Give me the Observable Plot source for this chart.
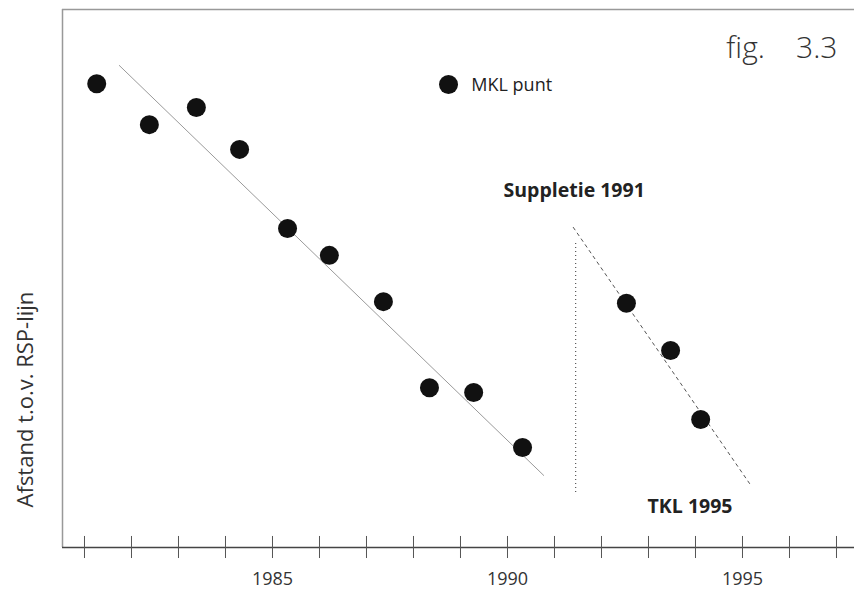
<!DOCTYPE html>
<html>
<head>
<meta charset="utf-8">
<script src="https://cdn.jsdelivr.net/npm/d3@7"></script>
<script src="https://cdn.jsdelivr.net/npm/@observablehq/plot@0.6"></script>
<style>
  html, body { margin: 0; padding: 0; background: #fff; }
  #chart svg { display: block; }
</style>
</head>
<body>
<div id="chart"></div>
<script>
// MKL measurements (year, distance relative to RSP line, arbitrary units)
const years = [1981.26, 1982.38, 1983.38, 1984.30, 1985.32, 1986.21, 1987.36, 1988.34, 1989.28, 1990.32, 1992.53, 1993.47, 1994.11];
const mkl   = [86.2, 78.6, 81.8, 74.0, 59.3, 54.3, 45.7, 29.7, 28.8, 18.6, 45.4, 36.6, 23.8];

// trend line before the nourishment (start/end)
const trend1X = [1981.74, 1990.77];
const trend1Y = [89.6, 13.4];
// trend line after the nourishment, extrapolated to TKL 1995
const trend2X = [1991.40, 1995.15];
const trend2Y = [59.5, 11.9];
// nourishment (suppletie) 1991 jump
const supplX = 1991.45;
const supplY = [56.5, 9.7];

const tickYears = d3.range(1981, 1998);
const labelYears = [1985, 1990, 1995];

const points = years.map((x, i) => ({x, y: mkl[i]}));
const t1 = trend1X.map((x, i) => ({x, y: trend1Y[i]}));
const t2 = trend2X.map((x, i) => ({x, y: trend2Y[i]}));

const xDomain = [1980.532, 1997.383];
const yDomain = [0, 100];
const font = "'Open Sans', 'DejaVu Sans', sans-serif";

const chart = Plot.plot({
  width: 854,
  height: 590,
  marginLeft: 62,
  marginRight: 0,
  marginTop: 9,
  marginBottom: 43,
  style: {fontFamily: font, background: "#fff"},
  x: {domain: xDomain, axis: null},
  y: {domain: yDomain, axis: null},
  marks: [
    // frame: left and top borders
    Plot.ruleX([xDomain[0]], {stroke: "#999", strokeWidth: 1.5}),
    Plot.ruleY([yDomain[1]], {stroke: "#999", strokeWidth: 1.5}),
    // x axis line
    Plot.ruleY([0], {stroke: "#444", strokeWidth: 1.3}),
    // crossing ticks, one per year
    Plot.ruleX(tickYears, {y1: -2.05, y2: 2.05, stroke: "#555", strokeWidth: 1}),
    Plot.axisX(labelYears, {
      tickSize: 0, tickPadding: 25, tickFormat: d => String(d),
      fontSize: 18, fill: "#333", label: null
    }),
    // trend lines
    Plot.line(t1, {x: "x", y: "y", stroke: "#9a9a9a", strokeWidth: 1}),
    Plot.line(t2, {x: "x", y: "y", stroke: "#555", strokeWidth: 1, strokeDasharray: "3,4"}),
    Plot.ruleX([supplX], {y1: supplY[0], y2: supplY[1], stroke: "#555", strokeWidth: 1.2, strokeDasharray: "1,3"}),
    // measurement points
    Plot.dot(points, {x: "x", y: "y", r: 9.5, fill: "#111", stroke: "none"}),
    // legend
    Plot.dot([{x: 1988.745, y: 86.06}], {x: "x", y: "y", r: 9.5, fill: "#111"}),
    Plot.text(["MKL punt"], {x: 1989.23, y: 84.76, textAnchor: "start", lineAnchor: "bottom", fontSize: 18, fill: "#222"}),
    // annotations
    Plot.text(["fig.\u00a0\u00a0\u00a0\u00a03.3"], {x: 1997.02, y: 90.9, textAnchor: "end", lineAnchor: "bottom", fontSize: 30, fontWeight: 300, fill: "#333"}),
    Plot.text(["Suppletie 1991"], {x: 1989.915, y: 65.06, textAnchor: "start", lineAnchor: "bottom", fontSize: 19.5, fontWeight: "bold", fill: "#222"}),
    Plot.text(["TKL 1995"], {x: 1992.98, y: 6.32, textAnchor: "start", lineAnchor: "bottom", fontSize: 19.5, fontWeight: "bold", fill: "#222"}),
    // y axis title
    Plot.text(["Afstand t.o.v. RSP-lijn"], {frameAnchor: "left", y: 27.5, dx: -37, rotate: -90, textAnchor: "middle", fontSize: 22, fill: "#333"})
  ]
});

document.getElementById("chart").appendChild(chart);
</script>
</body>
</html>
